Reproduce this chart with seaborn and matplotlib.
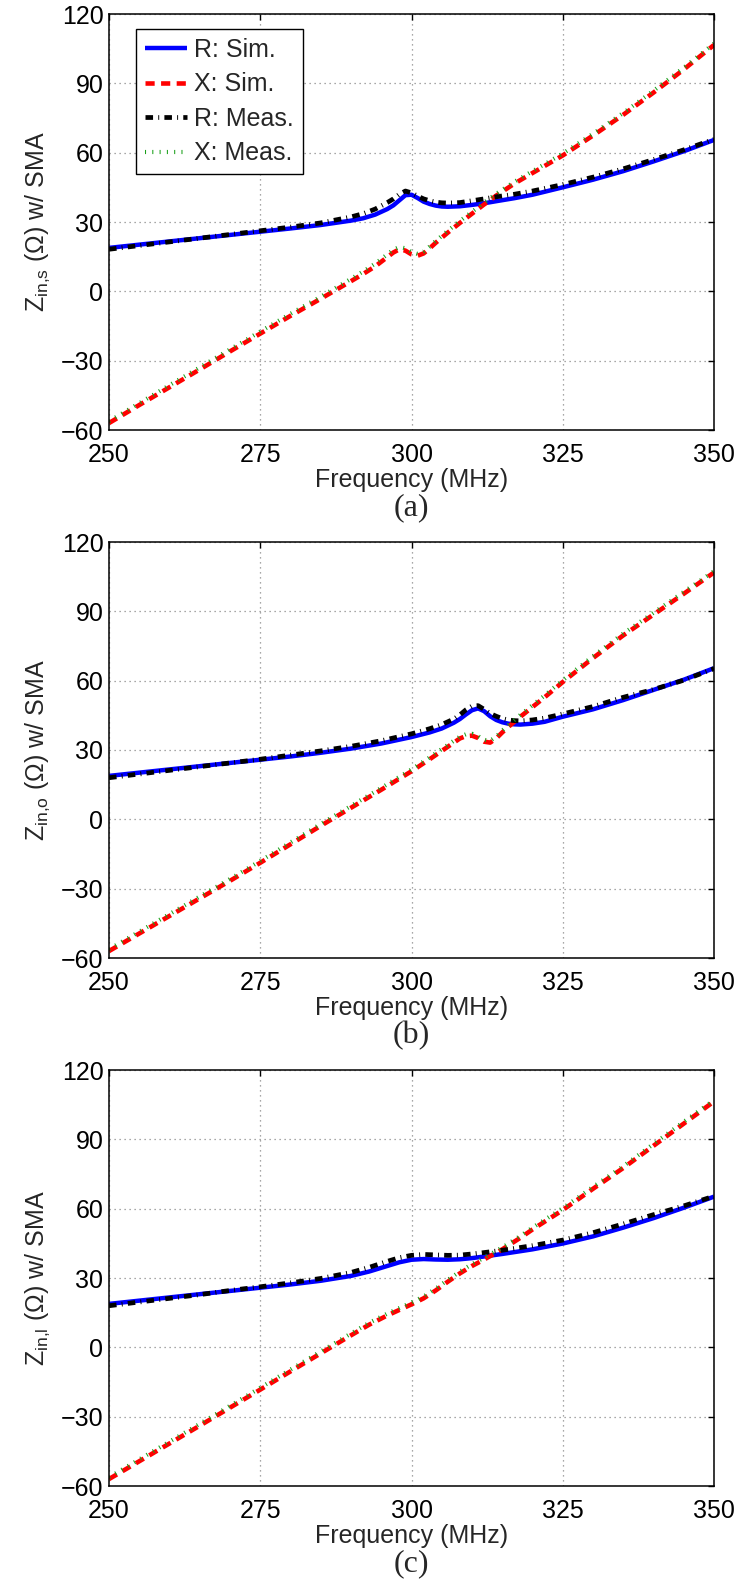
import numpy as np
import pandas as pd
import matplotlib
matplotlib.use("Agg")
import matplotlib.pyplot as plt
import seaborn as sns

# ---------------- data ----------------
freq_a = [250, 255, 260, 265, 270, 275, 280, 285, 290, 292, 294, 296, 297, 298, 299, 300, 301,
          302, 303, 304, 305, 306, 308, 310, 312, 314, 317, 320, 325, 330, 335, 340, 345, 350]
r_sim_a = [18.8, 20.2, 21.6, 23.0, 24.4, 25.8, 27.2, 28.7, 30.6, 31.6, 33.2, 35.6, 37.2, 39.4, 41.6, 41.8, 40.4,
           38.8, 37.8, 37.1, 36.7, 36.6, 36.8, 37.4, 38.1, 39.0, 40.3, 41.8, 45.0, 48.3, 52.0, 56.2, 60.6, 65.5]
x_sim_a = [-57.0, -49.2, -41.5, -33.8, -26.0, -18.3, -10.6, -3.2, 4.4, 7.5, 10.8, 14.8, 16.8, 18.2, 17.6, 16.0, 15.4,
           16.4, 18.6, 21.0, 23.2, 25.4, 29.6, 33.6, 37.6, 41.4, 46.6, 51.2, 58.8, 67.4, 76.4, 86.0, 96.0, 106.6]
r_meas_a = [18.2, 19.8, 21.4, 23.0, 24.6, 26.2, 27.8, 29.6, 32.2, 33.6, 35.6, 38.4, 40.0, 42.0, 43.4, 42.6, 41.2,
            40.0, 39.2, 38.6, 38.3, 38.2, 38.4, 39.2, 40.0, 40.9, 42.0, 43.4, 46.2, 49.4, 53.0, 57.0, 61.2, 65.8]
x_meas_a = [-56.2, -48.4, -40.6, -32.9, -25.1, -17.4, -9.7, -2.3, 5.4, 8.6, 12.0, 16.0, 18.0, 19.2, 18.6, 17.0, 16.2,
            17.2, 19.4, 21.8, 24.0, 26.2, 30.4, 34.4, 38.4, 42.2, 47.4, 52.0, 59.6, 68.2, 77.2, 86.8, 96.8, 107.2]

freq_b = [250, 255, 260, 265, 270, 275, 280, 285, 290, 295, 300, 303, 305, 307, 308, 309, 310,
          311, 312, 313, 314, 315, 316, 317, 318, 320, 322, 325, 330, 335, 340, 345, 350]
r_sim_b = [18.8, 20.2, 21.6, 23.0, 24.4, 25.8, 27.2, 28.8, 30.6, 32.8, 35.6, 37.6, 39.3, 41.8, 43.4, 45.4, 47.2,
           48.0, 46.8, 44.6, 43.0, 42.0, 41.4, 41.1, 41.0, 41.4, 42.2, 44.4, 47.6, 51.6, 56.0, 60.4, 65.4]
x_sim_b = [-57.0, -49.4, -41.8, -34.2, -26.6, -18.8, -10.8, -2.8, 5.0, 12.8, 20.8, 26.0, 29.6, 33.2, 35.0, 36.0, 36.2,
           35.2, 33.6, 33.2, 35.0, 37.6, 40.0, 42.2, 44.4, 48.6, 52.8, 59.4, 69.8, 79.6, 88.6, 97.6, 106.8]
r_meas_b = [18.0, 19.6, 21.2, 22.8, 24.4, 26.0, 27.8, 29.6, 31.6, 34.0, 37.0, 39.2, 41.0, 43.4, 45.2, 47.4, 49.0,
            49.2, 47.6, 45.8, 44.6, 43.6, 43.0, 42.7, 42.6, 43.0, 43.8, 45.6, 48.8, 52.8, 56.2, 60.2, 65.2]
x_meas_b = [-56.2, -48.6, -41.0, -33.4, -25.8, -18.0, -10.0, -2.0, 5.8, 13.6, 21.6, 26.8, 30.4, 34.0, 35.8, 36.8, 37.0,
            36.0, 34.4, 34.0, 35.8, 38.4, 40.8, 43.0, 45.2, 49.4, 53.6, 60.2, 70.6, 80.4, 89.4, 98.4, 107.4]

freq_c = [250, 255, 260, 265, 270, 275, 280, 285, 290, 293, 296, 298, 300, 302, 304, 306, 308,
          310, 312, 315, 318, 320, 325, 330, 335, 340, 345, 350]
r_sim_c = [18.8, 20.2, 21.6, 23.0, 24.4, 25.8, 27.2, 28.8, 30.9, 32.8, 35.2, 36.8, 37.9, 38.2, 38.0, 37.9, 38.1,
           38.6, 39.3, 40.4, 41.6, 42.4, 44.9, 48.0, 51.8, 55.9, 60.4, 65.2]
x_sim_c = [-57.0, -49.3, -41.6, -33.9, -26.1, -18.3, -10.4, -2.6, 5.2, 9.8, 13.8, 16.2, 18.6, 21.2, 24.6, 28.4, 32.0,
           35.2, 38.0, 42.4, 47.4, 51.0, 59.4, 68.6, 77.6, 87.2, 96.8, 106.4]
r_meas_c = [18.0, 19.6, 21.2, 22.8, 24.6, 26.2, 27.9, 29.8, 32.4, 34.6, 37.2, 38.8, 39.8, 40.2, 40.0, 39.8, 39.9,
            40.4, 41.0, 42.0, 43.2, 44.0, 46.4, 49.6, 53.4, 57.4, 61.2, 65.4]
x_meas_c = [-56.2, -48.5, -40.8, -33.1, -25.3, -17.5, -9.6, -1.8, 6.0, 10.6, 14.6, 17.0, 19.4, 22.0, 25.4, 29.2, 32.8,
            36.0, 38.8, 43.2, 48.2, 51.8, 60.2, 69.4, 78.4, 88.0, 97.6, 107.0]

series_labels = ["R: Sim.", "X: Sim.", "R: Meas.", "X: Meas."]
ylabels = ["Z$_\\mathregular{in{,}s}$ (\u03a9) w/ SMA",
           "Z$_\\mathregular{in{,}o}$ (\u03a9) w/ SMA",
           "Z$_\\mathregular{in{,}l}$ (\u03a9) w/ SMA"]
panel_tags = ["(a)", "(b)", "(c)"]
x_ticks = [250, 275, 300, 325, 350]
y_ticks = [-60, -30, 0, 30, 60, 90, 120]
xlabel = "Frequency (MHz)"

# ---------------- style ----------------
sns.set_style("white")
plt.rcParams["font.family"] = ["Liberation Sans", "DejaVu Sans"]
plt.rcParams["mathtext.fontset"] = "custom"
plt.rcParams["mathtext.rm"] = "Liberation Sans"
FS = 18

styles = [
    dict(color="#0000ff", lw=3.2, ls="-"),
    dict(color="#ff0000", lw=3.3, ls=(0, (2.0, 1.4))),
    dict(color="#000000", lw=3.4, ls=(0, (1.6, 1.1, 0.2, 1.1))),
    dict(color="#1aa01a", lw=3.0, ls=(0, (0.25, 1.5))),
]

fig = plt.figure(figsize=(7.41, 15.83), dpi=100)
W, H = 741.0, 1583.0
left_px, right_px = 109.0, 714.0
tops = [14.0, 542.0, 1070.0]
bottoms = [430.0, 958.0, 1486.0]

panels = [
    (freq_a, [r_sim_a, x_sim_a, r_meas_a, x_meas_a]),
    (freq_b, [r_sim_b, x_sim_b, r_meas_b, x_meas_b]),
    (freq_c, [r_sim_c, x_sim_c, r_meas_c, x_meas_c]),
]

for i, (freq, ys) in enumerate(panels):
    ax = fig.add_axes([left_px / W, 1 - bottoms[i] / H,
                       (right_px - left_px) / W, (bottoms[i] - tops[i]) / H])
    for lab, yv, st in zip(series_labels, ys, styles):
        df = pd.DataFrame({"f": freq, "v": yv})
        sns.lineplot(data=df, x="f", y="v", ax=ax, color=st["color"], lw=st["lw"],
                     label=lab, legend=False, sort=False, estimator=None)
        ln = ax.lines[-1]
        ln.set_linestyle(st["ls"])
        ln.set_dash_capstyle("butt")
        ln.set_solid_capstyle("butt")
    ax.set_xlim(250, 350)
    ax.set_ylim(-60, 120)
    ax.set_xticks(x_ticks)
    ax.set_yticks(y_ticks)
    ax.set_yticklabels([str(t).replace("-", "\u2212") for t in y_ticks])
    ax.grid(True, linestyle=(0, (1, 3)), color="#8a8a8a", lw=0.9)
    ax.tick_params(direction="in", length=4.5, width=1.0, top=True, right=True,
                   labelsize=FS, colors="black")
    ax.tick_params(axis="x", pad=9)
    ax.tick_params(axis="y", pad=4)
    for sp in ax.spines.values():
        sp.set_color("black")
        sp.set_linewidth(1.1)
    ax.set_xlabel(xlabel, fontsize=FS, labelpad=1)
    ax.set_ylabel(ylabels[i], fontsize=FS, labelpad=6)
    ax.text(0.5, -0.1875, panel_tags[i], transform=ax.transAxes, ha="center", va="center",
            fontsize=23, family=["Liberation Serif", "DejaVu Serif"])
    if i == 0:
        h, l = ax.get_legend_handles_labels()
        leg = ax.legend(h, l, loc="upper left", bbox_to_anchor=(0.0446, 0.964), fontsize=FS,
                        frameon=True, fancybox=False, framealpha=1, edgecolor="black",
                        handlelength=1.7, handletextpad=0.26, labelspacing=0.42,
                        borderpad=0.36, borderaxespad=0.0)
        leg.get_frame().set_linewidth(1.0)

fig.savefig("out.png", dpi=100)
